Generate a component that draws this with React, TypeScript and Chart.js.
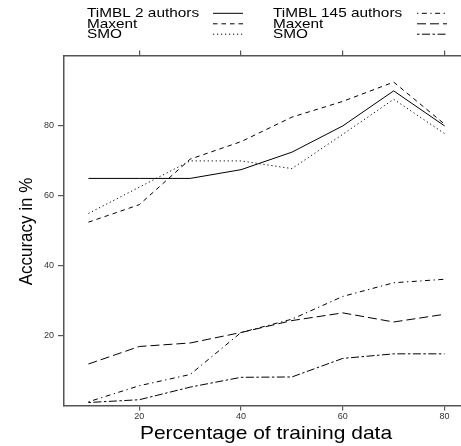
import React, { useEffect, useRef } from "react";
import { Chart, registerables } from "chart.js";

Chart.register(...registerables);

const trainingPct = [10, 20, 30, 40, 50, 60, 70, 80];
const timbl2 = [65, 65, 65, 67.5, 72.5, 80, 90, 80];
const maxent2 = [52.5, 57.5, 70.5, 75.5, 82.5, 87, 92.5, 80.5];
const smo2 = [55, 62.5, 70, 70, 67.8, 77.6, 87.6, 77.8];
const timbl145 = [1.2, 5.8, 9, 21, 24.8, 31.3, 35.2, 36.2];
const maxent145 = [12, 17, 18, 21, 24.4, 26.6, 24, 26.2];
const smo145 = [1, 1.8, 5.4, 8.2, 8.3, 13.6, 14.9, 14.9];
const xTicks = [20, 40, 60, 80];
const yTicks = [20, 40, 60, 80];

const legendCol1 = ["TiMBL 2 authors", "Maxent", "SMO"];
const legendCol2 = ["TiMBL 145 authors", "Maxent", "SMO"];

const DASH_SOLID: number[] = [];
const DASH_SHORT = [4.5, 4];
const DASH_DOT = [1.2, 2.8];
const DASH_DOTDASH = [1.3, 3.5, 5, 3.5];
const DASH_LONG = [9, 4];
const DASH_TWODASH = [2.5, 2.5, 8, 2.5];

const FONT = '"Liberation Sans", Arial, Helvetica, sans-serif';

function pts(arr: number[]) {
  return arr.map((y, i) => ({ x: trainingPct[i], y }));
}

function stretchedText(ctx: CanvasRenderingContext2D, text: string, x: number, y: number, size: number, sx: number, align: "left" | "center") {
  ctx.save();
  ctx.font = `${size}px ${FONT}`;
  ctx.fillStyle = "#000";
  ctx.textBaseline = "alphabetic";
  ctx.textAlign = "left";
  const w = ctx.measureText(text).width * sx;
  const x0 = align === "center" ? x - w / 2 : x;
  ctx.translate(x0, y);
  ctx.scale(sx, 1);
  ctx.fillText(text, 0, 0);
  ctx.restore();
}

const textPlugin = {
  id: "textPlugin",
  afterDraw(chart: any) {
    const ctx: CanvasRenderingContext2D = chart.ctx;
    const S = 1.2;
    const baselines = [17.3, 27.8, 38.3];
    const lineYs = [13.3, 23.8, 34.2];
    const dash1 = [DASH_SOLID, DASH_SHORT, DASH_DOT];
    const dash2 = [DASH_DOTDASH, DASH_LONG, DASH_TWODASH];
    for (let i = 0; i < 3; i++) {
      stretchedText(ctx, legendCol1[i], 87, baselines[i], 12.8, S, "left");
      stretchedText(ctx, legendCol2[i], 273, baselines[i], 12.8, S, "left");
      ctx.save();
      ctx.strokeStyle = "#000";
      ctx.lineWidth = 1;
      ctx.setLineDash(dash1[i]);
      ctx.beginPath();
      ctx.moveTo(213, lineYs[i]);
      ctx.lineTo(243, lineYs[i]);
      ctx.stroke();
      ctx.setLineDash(dash2[i]);
      ctx.beginPath();
      ctx.moveTo(417, lineYs[i]);
      ctx.lineTo(447, lineYs[i]);
      ctx.stroke();
      ctx.restore();
    }
    // x title
    stretchedText(ctx, "Percentage of training data", 266, 439.3, 18.5, 1.135, "left" === "left" ? "center" : "center");
    // y title (rotated)
    ctx.save();
    ctx.font = `17px ${FONT}`;
    ctx.fillStyle = "#000";
    ctx.textAlign = "center";
    ctx.textBaseline = "alphabetic";
    ctx.translate(31.5, 231.5);
    ctx.scale(1.12, 1);
    ctx.rotate(-Math.PI / 2);
    ctx.fillText("Accuracy in %", 0, 0);
    ctx.restore();
  },
};

function setTicks(values: number[]) {
  return (scale: any) => {
    scale.ticks = values.map((v) => ({ value: v }));
  };
}

export default function App() {
  const ref = useRef<HTMLCanvasElement | null>(null);
  useEffect(() => {
    if (!ref.current) return;
    const mk = (label: string, data: number[], dash: number[]) => ({
      label,
      data: pts(data),
      borderColor: "#000",
      backgroundColor: "#000",
      borderWidth: 1,
      borderDash: dash,
      pointRadius: 0,
      tension: 0,
      fill: false,
    });
    const borderCfg = { color: "#555", width: 1.5 };
    const chart = new Chart(ref.current, {
      type: "line",
      data: {
        datasets: [
          mk("TiMBL 2 authors", timbl2, DASH_SOLID),
          mk("Maxent", maxent2, DASH_SHORT),
          mk("SMO", smo2, DASH_DOT),
          mk("TiMBL 145 authors", timbl145, DASH_DOTDASH),
          mk("Maxent", maxent145, DASH_LONG),
          mk("SMO", smo145, DASH_TWODASH),
        ],
      },
      options: {
        animation: false,
        responsive: false,
        layout: { padding: { left: 0, right: 1, top: 0, bottom: 0 } },
        plugins: { legend: { display: false }, tooltip: { enabled: false }, title: { display: false } },
        scales: {
          x: {
            type: "linear",
            position: "bottom",
            min: 5.2,
            max: 85,
            afterBuildTicks: setTicks(xTicks),
            afterFit: (s: any) => { s.height = 40.5; },
            grid: { drawOnChartArea: false, drawTicks: true, tickLength: 5, tickColor: "#555", lineWidth: 1.2 },
            border: borderCfg,
            ticks: { font: { size: 9, family: FONT }, color: "#333", padding: 1, maxRotation: 0 },
          },
          x2: {
            type: "linear",
            position: "top",
            min: 5.2,
            max: 85,
            afterBuildTicks: setTicks(xTicks),
            afterFit: (s: any) => { s.height = 55.5; },
            grid: { drawOnChartArea: false, drawTicks: true, tickLength: 5, tickColor: "#555", lineWidth: 1.2 },
            border: borderCfg,
            ticks: { display: false },
          },
          y: {
            type: "linear",
            position: "left",
            min: 0.15,
            max: 100.1,
            afterBuildTicks: setTicks(yTicks),
            afterFit: (s: any) => { s.width = 64; },
            grid: { drawOnChartArea: false, drawTicks: true, tickLength: 6, tickColor: "#555", lineWidth: 1.2 },
            border: borderCfg,
            ticks: { font: { size: 9, family: FONT }, color: "#333", padding: 4 },
          },
        },
      },
      plugins: [textPlugin],
    } as any);
    return () => chart.destroy();
  }, []);
  return (
    <div style={{ position: "fixed", left: 0, top: 0, width: 461, height: 446, overflow: "hidden", background: "#fff" }}>
      <div style={{ width: 471, height: 446 }}>
        <canvas ref={ref} width={471} height={446} style={{ display: "block", width: 471, height: 446 }} />
      </div>
    </div>
  );
}
